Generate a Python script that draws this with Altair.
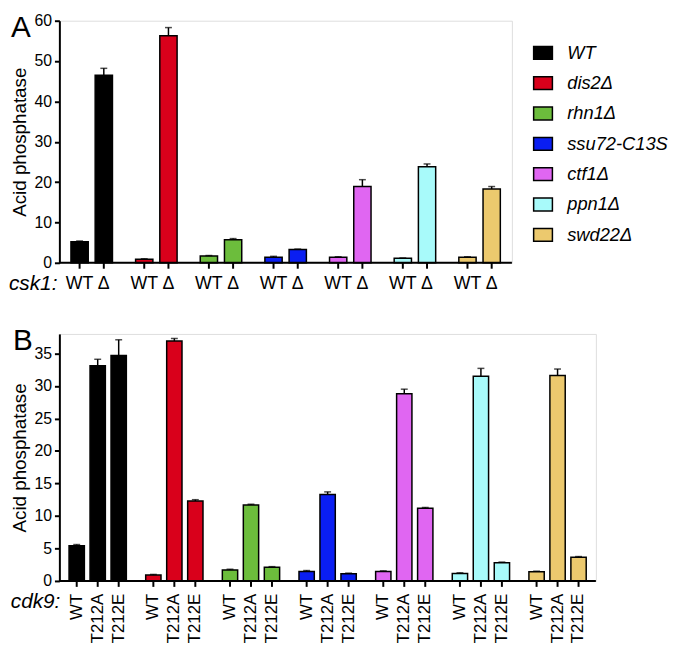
import altair as alt
import pandas as pd

FONT = "Liberation Sans"

strains = ["WT", "dis2Δ", "rhn1Δ", "ssu72-C13S", "ctf1Δ", "ppn1Δ", "swd22Δ"]
colors = ["#000000", "#d9001b", "#6cbd3c", "#0a1ef2", "#e066f2", "#a8fafa", "#ecc96e"]

# Panel A: csk1 WT vs Δ
csk1_genos = ["WT", "Δ"]
a_wt = [5.2, 0.9, 1.7, 1.4, 1.4, 1.1, 1.4]
a_wt_err = [5.4, 1.0, 1.8, 1.6, 1.5, 1.2, 1.5]
a_del = [46.5, 56.3, 5.7, 3.3, 18.9, 23.8, 18.3]
a_del_err = [48.2, 58.3, 6.0, 3.4, 20.6, 24.5, 18.9]

# Panel B: cdk9 WT / T212A / T212E
cdk9_genos = ["WT", "T212A", "T212E"]
b_wt = [5.4, 0.9, 1.7, 1.45, 1.45, 1.15, 1.4]
b_wt_err = [5.6, 1.0, 1.8, 1.6, 1.55, 1.25, 1.5]
b_a = [33.1, 36.9, 11.7, 13.3, 28.8, 31.5, 31.6]
b_a_err = [34.1, 37.3, 11.8, 13.7, 29.5, 32.7, 32.6]
b_e = [34.7, 12.3, 2.1, 1.1, 11.2, 2.8, 3.65]
b_e_err = [37.1, 12.5, 2.2, 1.2, 11.3, 2.9, 3.75]

rowsA = []
for i, s in enumerate(strains):
    rowsA.append({"strain": s, "geno": "WT", "value": a_wt[i], "err": a_wt_err[i]})
    rowsA.append({"strain": s, "geno": "Δ", "value": a_del[i], "err": a_del_err[i]})
dfA = pd.DataFrame(rowsA)

rowsB = []
for i, s in enumerate(strains):
    rowsB.append({"strain": s, "geno": "WT", "value": b_wt[i], "err": b_wt_err[i]})
    rowsB.append({"strain": s, "geno": "T212A", "value": b_a[i], "err": b_a_err[i]})
    rowsB.append({"strain": s, "geno": "T212E", "value": b_e[i], "err": b_e_err[i]})
dfB = pd.DataFrame(rowsB)


def panel(df, genos, width, height, ymax, yvals, pi, po, letter, gene_label,
          title_pad, rotate, show_legend):
    x = alt.X("strain:N", sort=strains,
              scale=alt.Scale(domain=strains, paddingInner=0, paddingOuter=0), axis=None)
    xo = alt.XOffset("geno:N", sort=genos,
                     scale=alt.Scale(domain=genos, paddingInner=pi, paddingOuter=po))
    yaxis = alt.Axis(values=yvals, title="Acid phosphatase", grid=False,
                     domainColor="black", domainWidth=2, tickColor="black", tickWidth=2,
                     tickSize=5, labelFont=FONT, labelFontSize=16, labelColor="black",
                     labelPadding=3, titleFont=FONT, titleFontSize=19,
                     titleFontWeight="normal", titleColor="black", titlePadding=title_pad)
    yscale = alt.Scale(domain=[0, ymax], nice=False)
    if show_legend:
        legend = alt.Legend(orient="none", legendX=479, legendY=22, title=None,
                            labelFont=FONT, labelFontSize=18.5, labelFontStyle="italic",
                            labelColor="black", symbolType="M-1,-0.684H1V0.684H-1Z",
                            symbolSize=361, symbolStrokeColor="black",
                            symbolStrokeWidth=1.5, rowPadding=10.7, labelOffset=14,
                            padding=0)
    else:
        legend = None
    color = alt.Color("strain:N", scale=alt.Scale(domain=strains, range=colors),
                      legend=legend)
    base = alt.Chart(df)
    bars = base.mark_bar(stroke="black", strokeWidth=1.5).encode(
        x=x, xOffset=xo, y=alt.Y("value:Q", scale=yscale, axis=yaxis), color=color)
    err = base.mark_rule(color="black", strokeWidth=1.5).encode(
        x=x, xOffset=xo, y=alt.Y("value:Q", scale=yscale, axis=yaxis), y2="err:Q")
    caps = base.mark_tick(color="black", thickness=1.5, size=7).encode(
        x=x, xOffset=xo, y=alt.Y("err:Q", scale=yscale, axis=yaxis))
    ticks = base.mark_rule(color="black", strokeWidth=2).encode(
        x=x, xOffset=xo, y=alt.value(height), y2=alt.value(height + 6))
    if rotate:
        labels = base.mark_text(font=FONT, fontSize=17, angle=270, align="right",
                                baseline="middle", color="black").encode(
            x=x, xOffset=xo, y=alt.value(height + 13), text="geno:N")
        gene = alt.Chart(pd.DataFrame({"t": [gene_label]})).mark_text(
            font=FONT, fontSize=21, fontStyle="italic", align="right",
            baseline="middle", color="black").encode(
            x=alt.value(1), y=alt.value(height + 21), text="t:N")
    else:
        labels = base.mark_text(font=FONT, fontSize=18, align="center",
                                baseline="middle", color="black").encode(
            x=x, xOffset=xo, y=alt.value(height + 22), text="geno:N")
        gene = alt.Chart(pd.DataFrame({"t": [gene_label]})).mark_text(
            font=FONT, fontSize=21, fontStyle="italic", align="right",
            baseline="middle", color="black").encode(
            x=alt.value(-2), y=alt.value(height + 22), text="t:N")
    xline = alt.Chart(pd.DataFrame({"t": [0]})).mark_rule(
        color="black", strokeWidth=2).encode(
        x=alt.value(0), x2=alt.value(width), y=alt.value(height))
    let = alt.Chart(pd.DataFrame({"t": [letter]})).mark_text(
        font=FONT, fontSize=30, align="left", baseline="middle",
        color="black").encode(
        x=alt.value(-49 if letter == "A" else -47), y=alt.value(7),
        text="t:N")
    return alt.layer(bars, err, caps, ticks, xline, labels, gene, let).properties(
        width=width, height=height)


chartA = panel(dfA, csk1_genos, 458, 245, 60, list(range(0, 61, 10)), 0.286, 0.478,
               "A", "csk1:", 4, False, True)
chartB = panel(dfB, cdk9_genos, 543, 250, 38, list(range(0, 36, 5)), 0.27, 0.461,
               "B", "cdk9:", 4, True, False)

chart = alt.vconcat(chartA, chartB, spacing=30, padding=0).resolve_scale(
    x="independent", xOffset="independent", y="independent", color="independent"
).configure_view(stroke=None).configure(font=FONT)

chart.save("out.html", embed_options={"renderer": "svg", "actions": False})
